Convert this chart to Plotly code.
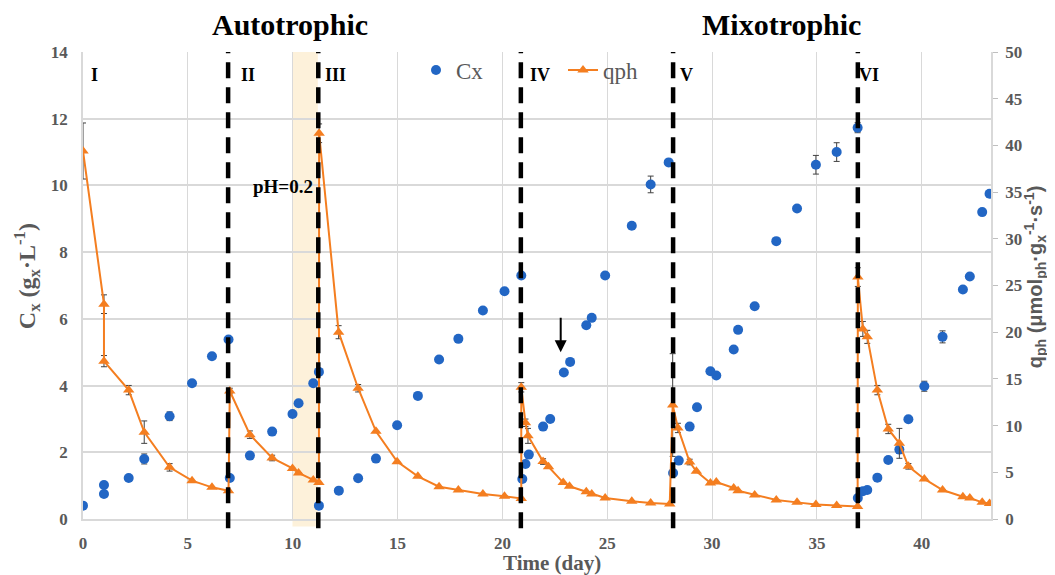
import plotly.graph_objects as go

# ---------------- data ----------------
days_cx = [0, 1.0, 1.0, 2.18, 2.92, 4.13, 5.2, 6.15, 6.94,
           7.0, 7.96, 9.02, 9.99, 10.28, 10.98, 11.25,
           11.25, 12.2, 13.12, 13.97, 14.98, 15.97, 16.98, 17.9, 19.07, 20.1, 20.9,
           20.95, 21.1, 21.26, 21.94, 22.28, 22.93, 23.23, 24.0, 24.26, 24.9, 26.17, 27.07, 27.93,
           28.14, 28.41, 28.93, 29.28, 29.92, 30.2, 31.03, 31.24, 32.03, 33.06, 34.05, 34.95, 35.94, 36.94,
           36.95, 37.19, 37.4, 37.88, 38.4, 38.93, 39.36, 40.12, 40.99, 41.96, 42.29, 42.88, 43.23]
cx = [0.4, 0.75, 1.02, 1.23, 1.8, 3.08, 4.07, 4.88, 5.38,
      1.23, 1.9, 2.62, 3.15, 3.47, 4.07, 4.41,
      0.4, 0.85, 1.22, 1.81, 2.81, 3.69, 4.78, 5.4, 6.25, 6.83, 7.3,
      1.2, 1.65, 1.93, 2.77, 3.0, 4.39, 4.71, 5.81, 6.03, 7.3, 8.79, 10.03, 10.69,
      1.38, 1.75, 2.77, 3.35, 4.43, 4.3, 5.08, 5.67, 6.38, 8.33, 9.31, 10.62, 11.0, 11.73,
      0.63, 0.83, 0.87, 1.24, 1.77, 2.08, 2.99, 3.98, 5.46, 6.88, 7.27, 9.2, 9.75]
cx_err = [0, 0, 0, 0, 0.15, 0.13, 0, 0, 0,
          0, 0, 0, 0, 0, 0, 0,
          0, 0, 0, 0, 0, 0, 0, 0, 0, 0, 0,
          0, 0, 0, 0, 0, 0, 0, 0, 0, 0, 0, 0.25, 0,
          0, 0, 0, 0, 0, 0, 0, 0, 0, 0, 0, 0.28, 0.28, 0.15,
          0, 0, 0, 0, 0, 0, 0, 0.15, 0.18, 0, 0, 0, 0]

days_q = [0, 1.0, 1.0, 2.18, 2.92, 4.13, 5.2, 6.15, 6.94,
          7.0, 7.96, 9.02, 9.99, 10.28, 10.98, 11.25,
          11.26, 12.19, 13.12, 13.97, 14.98, 15.97, 16.98, 17.9, 19.07, 20.1, 20.9,
          20.9, 21.1, 21.22, 21.94, 22.2, 22.9, 23.2, 24.0, 24.26, 24.9, 26.17, 27.07, 27.98,
          28.12, 28.37, 28.93, 29.25, 29.92, 30.2, 31.03, 31.24, 32.03, 33.06, 34.05, 34.95, 35.94, 36.94,
          36.95, 37.19, 37.4, 37.88, 38.4, 38.93, 39.36, 40.12, 40.99, 41.96, 42.29, 42.88, 43.23]
qph = [39.4, 23.0, 16.9, 13.8, 9.3, 5.53, 4.1, 3.39, 3.03,
       13.7, 9.03, 6.53, 5.42, 4.93, 4.18, 3.92,
       41.3, 20.0, 14.0, 9.39, 6.14, 4.57, 3.46, 3.1, 2.68, 2.43, 2.2,
       14.1, 10.3, 8.9, 6.15, 5.6, 3.9, 3.5, 2.92, 2.68, 2.25, 1.89, 1.7, 1.6,
       12.2, 9.75, 6.1, 5.1, 3.85, 3.95, 3.32, 3.03, 2.57, 2.03, 1.78, 1.55, 1.45, 1.35,
       25.9, 20.35, 19.5, 13.8, 9.64, 8.1, 5.64, 4.29, 3.1, 2.39, 2.25, 1.78, 1.67]
qph_err = [3.0, 1.0, 0.6, 0.5, 1.2, 0.4, 0, 0, 0,
           0.3, 0.4, 0.3, 0, 0, 0, 0,
           1.0, 0.7, 0.4, 0, 0, 0, 0, 0, 0, 0, 0,
           0.5, 0.4, 0.8, 0.3, 0, 0, 0, 0, 0, 0, 0, 0, 0,
           5.5, 0.5, 0.3, 0, 0, 0, 0, 0, 0, 0, 0, 0, 0, 0,
           1.0, 0.8, 0.7, 0.5, 0.5, 1.6, 0.3, 0, 0, 0, 0, 0, 0]

phase_change_days = [6.92, 11.22, 20.88, 28.14, 36.95]
phase_labels = ["I", "II", "III", "IV", "V", "VI"]
phase_label_days = [0.57, 7.86, 12.05, 21.8, 28.8, 37.5]
ph_shock_days = [9.99, 11.2]
regime_titles = ["Autotrophic", "Mixotrophic"]

# ---------------- style ----------------
BLUE = "#2266C4"
ORANGE = "#F47E20"
GRAY = "#595959"
GRID = "#D9D9D9"
SERIF = "Liberation Serif"
SANS = "Liberation Sans"

# page body has an 8px default margin: compensate so the plot lands at the reference pixels
OFF = 8
W, H = 1055 - OFF, 575 - OFF
ML, MT = 83 - OFF, 52 - OFF
PW, PH = 908, 466.6
MR = W - ML - PW
MB = H - MT - PH


def px_x(px):  # screen px -> paper x
    return (px - 83) / PW


def px_y(py):  # screen px -> paper y
    return (518.6 - py) / PH


fig = go.Figure()

fig.add_trace(go.Scatter(
    x=days_cx, y=cx, mode="markers", name="Cx", showlegend=True,
    marker=dict(symbol="circle", size=10, color=BLUE),
    error_y=dict(type="data", array=cx_err, color="#404040", thickness=1, width=3),
    legend="legend", yaxis="y",
))
fig.add_trace(go.Scatter(
    x=days_q, y=qph, mode="lines+markers", name="qph", showlegend=True,
    line=dict(color=ORANGE, width=2),
    marker=dict(symbol="triangle-up", size=10, color=ORANGE),
    error_y=dict(type="data", array=qph_err, color="#404040", thickness=1, width=3),
    legend="legend2", yaxis="y2",
))

shapes = [dict(type="rect", xref="x", yref="paper", x0=ph_shock_days[0], x1=ph_shock_days[1],
               y0=-0.016, y1=1.0, fillcolor="#FCEBCB", opacity=0.7, line=dict(width=0), layer="below")]
for d in phase_change_days:
    shapes.append(dict(type="line", xref="x", yref="paper", x0=d, x1=d, y0=-0.02, y1=1.0,
                       line=dict(color="black", width=4.5, dash="16px,9px"), layer="above"))

annotations = []
for lab, d in zip(phase_labels, phase_label_days):
    annotations.append(dict(x=d, y=13.3, xref="x", yref="y", text="<b>" + lab + "</b>", showarrow=False,
                            font=dict(family=SERIF, size=18, color="black"), xanchor="center"))
annotations.append(dict(x=8.0, y=9.98, xref="x", yref="y", text="<b>pH=0.2</b>", showarrow=False,
                        font=dict(family=SERIF, size=19, color="black"), xanchor="left"))
annotations.append(dict(x=px_x(290), y=px_y(25), xref="paper", yref="paper",
                        text="<b>" + regime_titles[0] + "</b>", showarrow=False,
                        font=dict(family=SERIF, size=30, color="black"), xanchor="center", yanchor="middle"))
annotations.append(dict(x=px_x(781), y=px_y(25), xref="paper", yref="paper",
                        text="<b>" + regime_titles[1] + "</b>", showarrow=False,
                        font=dict(family=SERIF, size=30, color="black"), xanchor="center", yanchor="middle"))
annotations.append(dict(x=px_x(552), y=px_y(563), xref="paper", yref="paper",
                        text="<b>Time (day)</b>", showarrow=False,
                        font=dict(family=SERIF, size=21, color=GRAY), xanchor="center", yanchor="middle"))
annotations.append(dict(x=px_x(27), y=px_y(276), xref="paper", yref="paper",
                        text="<b>C<sub>x</sub> (g<sub>x</sub>·L<sup>-1</sup>)</b>", showarrow=False, textangle=-90,
                        font=dict(family=SERIF, size=24, color=GRAY), xanchor="center", yanchor="middle"))
annotations.append(dict(x=px_x(1035), y=px_y(277), xref="paper", yref="paper",
                        text="<b>q<sub>ph</sub> (μmol<sub>ph</sub>·g<sub>x</sub><sup>-1</sup>·s<sup>-1</sup>)</b>",
                        showarrow=False, textangle=-90,
                        font=dict(family=SANS, size=20, color=GRAY), xanchor="center", yanchor="middle"))
annotations.append(dict(x=22.78, y=5.0, xref="x", yref="y", ax=0, ay=-36, text="", showarrow=True,
                        arrowhead=2, arrowsize=1.2, arrowwidth=2, arrowcolor="black"))

tickfont = dict(family=SERIF, size=17, color=GRAY, weight="bold")
fig.update_layout(
    width=W, height=H,
    margin=dict(l=ML, r=MR, t=MT, b=MB, autoexpand=False),
    paper_bgcolor="white", plot_bgcolor="white",
    shapes=shapes, annotations=annotations, showlegend=True,
    xaxis=dict(range=[0, 43.3], tickvals=[0, 5, 10, 15, 20, 25, 30, 35, 40],
               showgrid=True, gridcolor=GRID, gridwidth=1, zeroline=False,
               showline=True, linecolor=GRID, linewidth=1.5, ticks="",
               tickfont=tickfont, ticklabelstandoff=8),
    yaxis=dict(range=[0, 14], dtick=2, showgrid=True, gridcolor=GRID, gridwidth=1.5, zeroline=False,
               showline=True, linecolor=GRID, linewidth=1.5, ticks="",
               tickfont=tickfont, ticklabelstandoff=10),
    yaxis2=dict(range=[0, 50], dtick=5, overlaying="y", side="right", showgrid=False, zeroline=False,
                showline=True, linecolor=GRID, linewidth=1.5, ticks="outside", ticklen=5, tickcolor="#BFBFBF",
                tickfont=tickfont, ticklabelstandoff=4),
    legend=dict(x=px_x(416), y=px_y(70), xanchor="left", yanchor="middle", visible=True,
                bgcolor="rgba(0,0,0,0)", font=dict(family=SERIF, size=23, color=GRAY)),
    legend2=dict(x=px_x(563), y=px_y(70), xanchor="left", yanchor="middle", visible=True,
                 bgcolor="rgba(0,0,0,0)", font=dict(family=SERIF, size=23, color=GRAY)),
)

fig.write_html("out.html")
